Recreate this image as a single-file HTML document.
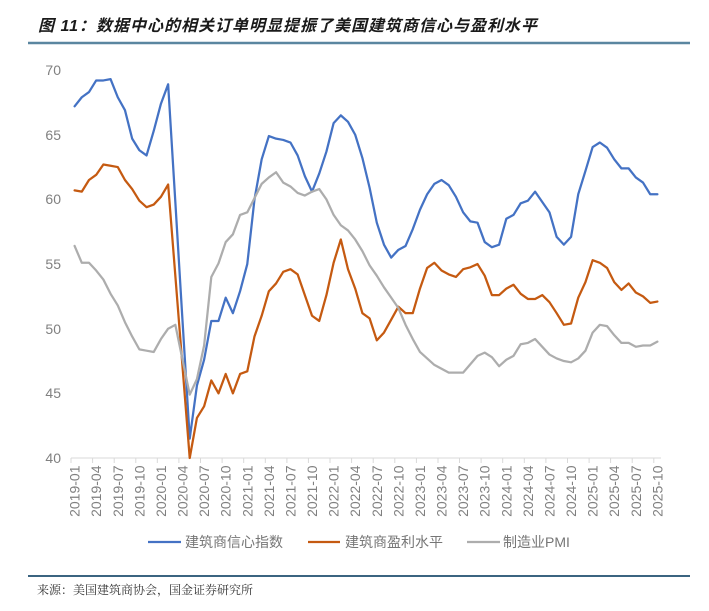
<!DOCTYPE html>
<html>
<head>
<meta charset="utf-8">
<style>
  html,body{margin:0;padding:0;background:#fff;}
  body{width:709px;height:611px;overflow:hidden;}
  svg{display:block;}
  .ax{font-family:"Liberation Sans","Noto Sans CJK SC",sans-serif;font-size:14px;fill:#808080;}
  .lg{font-family:"Liberation Sans","Noto Sans CJK SC",sans-serif;font-size:14px;fill:#767676;}
</style>
</head>
<body>
<svg width="709" height="611" viewBox="0 0 709 611" xmlns="http://www.w3.org/2000/svg">
  <rect x="0" y="0" width="709" height="611" fill="#fff"/>
  <!-- Title -->
  <text x="38" y="31" font-family="'Liberation Sans','Noto Sans CJK SC',sans-serif" font-size="16" font-weight="bold" font-style="italic" letter-spacing="1" fill="#1a1a1a">图 11：数据中心的相关订单明显提振了美国建筑商信心与盈利水平</text>
  <line x1="28" y1="43" x2="690" y2="43" stroke="#5a86a0" stroke-width="2.5"/>

  <!-- Y axis labels -->
  <g class="ax" text-anchor="end">
    <text x="61" y="75">70</text>
    <text x="61" y="140">65</text>
    <text x="61" y="204">60</text>
    <text x="61" y="269">55</text>
    <text x="61" y="334">50</text>
    <text x="61" y="398">45</text>
    <text x="61" y="463">40</text>
  </g>

  <!-- X axis -->
  <line x1="71" y1="458" x2="661" y2="458" stroke="#d9d9d9" stroke-width="1"/>
  <g stroke="#d9d9d9" stroke-width="1">
    <line x1="71" y1="458" x2="71" y2="463"/>
    <line x1="92.6" y1="458" x2="92.6" y2="463"/>
    <line x1="114.2" y1="458" x2="114.2" y2="463"/>
    <line x1="135.8" y1="458" x2="135.8" y2="463"/>
    <line x1="157.3" y1="458" x2="157.3" y2="463"/>
    <line x1="178.9" y1="458" x2="178.9" y2="463"/>
    <line x1="200.5" y1="458" x2="200.5" y2="463"/>
    <line x1="222.1" y1="458" x2="222.1" y2="463"/>
    <line x1="243.7" y1="458" x2="243.7" y2="463"/>
    <line x1="265.3" y1="458" x2="265.3" y2="463"/>
    <line x1="286.9" y1="458" x2="286.9" y2="463"/>
    <line x1="308.4" y1="458" x2="308.4" y2="463"/>
    <line x1="330.0" y1="458" x2="330.0" y2="463"/>
    <line x1="351.6" y1="458" x2="351.6" y2="463"/>
    <line x1="373.2" y1="458" x2="373.2" y2="463"/>
    <line x1="394.8" y1="458" x2="394.8" y2="463"/>
    <line x1="416.4" y1="458" x2="416.4" y2="463"/>
    <line x1="438.0" y1="458" x2="438.0" y2="463"/>
    <line x1="459.5" y1="458" x2="459.5" y2="463"/>
    <line x1="481.1" y1="458" x2="481.1" y2="463"/>
    <line x1="502.7" y1="458" x2="502.7" y2="463"/>
    <line x1="524.3" y1="458" x2="524.3" y2="463"/>
    <line x1="545.9" y1="458" x2="545.9" y2="463"/>
    <line x1="567.5" y1="458" x2="567.5" y2="463"/>
    <line x1="589.1" y1="458" x2="589.1" y2="463"/>
    <line x1="610.6" y1="458" x2="610.6" y2="463"/>
    <line x1="632.2" y1="458" x2="632.2" y2="463"/>
    <line x1="653.8" y1="458" x2="653.8" y2="463"/>
  </g>
  <g class="ax" text-anchor="end">
    <text transform="translate(79.6,465.5) rotate(-90)">2019-01</text>
    <text transform="translate(101.2,465.5) rotate(-90)">2019-04</text>
    <text transform="translate(122.8,465.5) rotate(-90)">2019-07</text>
    <text transform="translate(144.4,465.5) rotate(-90)">2019-10</text>
    <text transform="translate(165.9,465.5) rotate(-90)">2020-01</text>
    <text transform="translate(187.5,465.5) rotate(-90)">2020-04</text>
    <text transform="translate(209.1,465.5) rotate(-90)">2020-07</text>
    <text transform="translate(230.7,465.5) rotate(-90)">2020-10</text>
    <text transform="translate(252.3,465.5) rotate(-90)">2021-01</text>
    <text transform="translate(273.9,465.5) rotate(-90)">2021-04</text>
    <text transform="translate(295.5,465.5) rotate(-90)">2021-07</text>
    <text transform="translate(317.0,465.5) rotate(-90)">2021-10</text>
    <text transform="translate(338.6,465.5) rotate(-90)">2022-01</text>
    <text transform="translate(360.2,465.5) rotate(-90)">2022-04</text>
    <text transform="translate(381.8,465.5) rotate(-90)">2022-07</text>
    <text transform="translate(403.4,465.5) rotate(-90)">2022-10</text>
    <text transform="translate(425.0,465.5) rotate(-90)">2023-01</text>
    <text transform="translate(446.6,465.5) rotate(-90)">2023-04</text>
    <text transform="translate(468.1,465.5) rotate(-90)">2023-07</text>
    <text transform="translate(489.7,465.5) rotate(-90)">2023-10</text>
    <text transform="translate(511.3,465.5) rotate(-90)">2024-01</text>
    <text transform="translate(532.9,465.5) rotate(-90)">2024-04</text>
    <text transform="translate(554.5,465.5) rotate(-90)">2024-07</text>
    <text transform="translate(576.1,465.5) rotate(-90)">2024-10</text>
    <text transform="translate(597.7,465.5) rotate(-90)">2025-01</text>
    <text transform="translate(619.2,465.5) rotate(-90)">2025-04</text>
    <text transform="translate(640.8,465.5) rotate(-90)">2025-07</text>
    <text transform="translate(662.4,465.5) rotate(-90)">2025-10</text>
  </g>

  <!-- Series -->
  <g transform="matrix(7.195 0 0 -12.93 74.6 975.2)" fill="none" stroke-linejoin="round" stroke-linecap="round">
    <polyline vector-effect="non-scaling-stroke" stroke="#4472C4" stroke-width="2.25" points="0,67.2 1,67.9 2,68.3 3,69.2 4,69.2 5,69.3 6,67.9 7,66.9 8,64.7 9,63.8 10,63.4 11,65.3 12,67.4 13,68.9 14,59.8 15,50.6 16,41.5 17,45.6 18,47.6 19,50.6 20,50.6 21,52.4 22,51.2 23,52.9 24,55.0 25,60.0 26,63.1 27,64.9 28,64.7 29,64.6 30,64.4 31,63.4 32,61.8 33,60.6 34,62.0 35,63.7 36,65.9 37,66.5 38,66.0 39,65.0 40,63.2 41,60.9 42,58.2 43,56.5 44,55.5 45,56.1 46,56.4 47,57.7 48,59.2 49,60.4 50,61.2 51,61.5 52,61.1 53,60.2 54,59.0 55,58.3 56,58.2 57,56.7 58,56.3 59,56.5 60,58.5 61,58.8 62,59.7 63,59.9 64,60.6 65,59.8 66,59.0 67,57.1 68,56.5 69,57.1 70,60.4 71,62.2 72,64.05 73,64.4 74,64.0 75,63.1 76,62.4 77,62.4 78,61.7 79,61.3 80,60.4 81,60.4"/>
    <polyline vector-effect="non-scaling-stroke" stroke="#C55A11" stroke-width="2.25" points="0,60.7 1,60.6 2,61.5 3,61.9 4,62.7 5,62.6 6,62.5 7,61.5 8,60.8 9,59.9 10,59.4 11,59.6 12,60.2 13,61.15 14,54.1 15,47.05 16,40.0 17,43.1 18,44.0 19,46.0 20,45.0 21,46.5 22,45.0 23,46.5 24,46.7 25,49.4 26,51.0 27,52.9 28,53.5 29,54.4 30,54.6 31,54.2 32,52.6 33,51.0 34,50.6 35,52.6 36,55.1 37,56.9 38,54.6 39,53.1 40,51.2 41,50.8 42,49.1 43,49.7 44,50.7 45,51.7 46,51.2 47,51.2 48,53.1 49,54.7 50,55.1 51,54.5 52,54.2 53,54.0 54,54.6 55,54.75 56,55.0 57,54.1 58,52.6 59,52.6 60,53.1 61,53.4 62,52.7 63,52.3 64,52.3 65,52.6 66,52.05 67,51.2 68,50.3 69,50.4 70,52.4 71,53.6 72,55.3 73,55.1 74,54.7 75,53.6 76,53.0 77,53.5 78,52.8 79,52.5 80,52.0 81,52.1"/>
    <polyline vector-effect="non-scaling-stroke" stroke="#ADADAD" stroke-width="2.25" points="0,56.4 1,55.1 2,55.1 3,54.5 4,53.8 5,52.7 6,51.8 7,50.5 8,49.4 9,48.4 10,48.3 11,48.2 12,49.2 13,50.0 14,50.3 15,47.6 16,44.9 17,46.1 18,48.7 19,54.0 20,55.05 21,56.7 22,57.3 23,58.8 24,59.0 25,60.1 26,61.2 27,61.7 28,62.1 29,61.3 30,61.0 31,60.5 32,60.3 33,60.6 34,60.8 35,60.0 36,58.8 37,58.0 38,57.6 39,56.9 40,56.0 41,54.9 42,54.1 43,53.2 44,52.4 45,51.6 46,50.3 47,49.2 48,48.2 49,47.7 50,47.2 51,46.9 52,46.6 53,46.6 54,46.6 55,47.25 56,47.9 57,48.15 58,47.8 59,47.1 60,47.6 61,47.9 62,48.8 63,48.9 64,49.2 65,48.6 66,48.0 67,47.7 68,47.5 69,47.4 70,47.7 71,48.3 72,49.7 73,50.3 74,50.2 75,49.5 76,48.9 77,48.9 78,48.6 79,48.7 80,48.7 81,49.0"/>
  </g>

  <!-- Legend -->
  <line x1="148" y1="542" x2="181" y2="542" stroke="#4472C4" stroke-width="2.25"/>
  <text class="lg" x="185" y="547">建筑商信心指数</text>
  <line x1="308" y1="542" x2="340" y2="542" stroke="#C55A11" stroke-width="2.25"/>
  <text class="lg" x="345" y="547">建筑商盈利水平</text>
  <line x1="467" y1="542" x2="500" y2="542" stroke="#ADADAD" stroke-width="2.25"/>
  <text class="lg" x="503" y="547">制造业PMI</text>

  <!-- Footer -->
  <line x1="28" y1="576" x2="690" y2="576" stroke="#1f4e6e" stroke-width="1.8"/>
  <text x="37" y="594" font-family="'Noto Serif CJK SC','Liberation Serif',serif" font-size="12" fill="#333">来源：美国建筑商协会，国金证券研究所</text>
</svg>
</body>
</html>
